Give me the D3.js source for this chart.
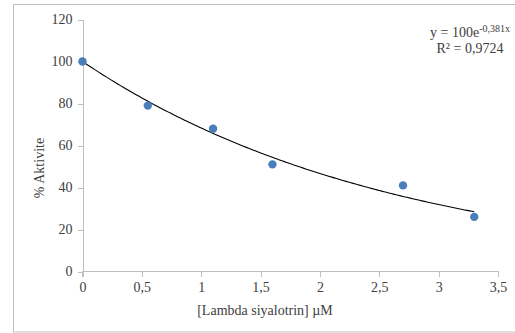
<!DOCTYPE html>
<html><head><meta charset="utf-8">
<script src="https://cdn.jsdelivr.net/npm/d3@7"></script>
<style>body{margin:0;background:#fff}svg{display:block}text{font-family:"Liberation Serif","Times New Roman",serif;fill:#404040}</style>
</head><body><svg id="c" width="515" height="333"></svg>
<script>
const xValues = [0, 0.55, 1.1, 1.6, 2.7, 3.3];
const yValues = [100, 79, 68, 51, 41, 26];
const xTicks = [0, 0.5, 1, 1.5, 2, 2.5, 3, 3.5];
const yTicks = [0, 20, 40, 60, 80, 100, 120];
const trendA = 100, trendB = -0.381;
const eqText = ["y = 100e", "-0,381x"];
const r2Text = "R² = 0,9724";
const xTitle = "[Lambda siyalotrin] µM";
const yTitle = "% Aktivite";

const svg = d3.select("#c");
svg.append("rect").attr("x",13.5).attr("y",4.5).attr("width",520).attr("height",327.5)
  .attr("fill","#fff").attr("stroke","#bfbfbf").attr("stroke-width",1);

const x = d3.scaleLinear().domain([0,3.5]).range([82.5,498]);
const y = d3.scaleLinear().domain([0,120]).range([271.5,19.5]);
const fmt = d => String(d).replace(".", ",");

const gx = svg.append("g").attr("transform","translate(0,271.5)")
  .call(d3.axisBottom(x).tickValues(xTicks).tickFormat(fmt).tickSize(5).tickPadding(6));
const gy = svg.append("g").attr("transform","translate(82.5,0)")
  .call(d3.axisLeft(y).tickValues(yTicks).tickSize(5).tickPadding(5));
[gx,gy].forEach(g=>{
  g.selectAll("path,line").attr("stroke","#bfbfbf").attr("shape-rendering","crispEdges");
  g.selectAll("text").attr("font-family","Liberation Serif").attr("font-size",14).attr("fill","#404040");
});
gx.select(".domain").attr("d","M82.5,5V0H498V5");

// trendline
const tx = d3.range(0, 3.3001, 0.02);
svg.append("path").datum(tx)
  .attr("d", d3.line().x(d=>x(d)).y(d=>y(trendA*Math.exp(trendB*d))))
  .attr("fill","none").attr("stroke","#000").attr("stroke-width",1.1);

svg.append("g").selectAll("circle").data(xValues).join("circle")
  .attr("cx",(d)=>x(d)).attr("cy",(d,i)=>y(yValues[i])).attr("r",4.2)
  .attr("fill","#4a7ebb");

const eq = svg.append("text").attr("x",470).attr("y",37).attr("text-anchor","middle").attr("font-size",14);
eq.append("tspan").text(eqText[0]);
eq.append("tspan").attr("font-size",10).attr("dy",-5).text(eqText[1]);
svg.append("text").attr("x",470).attr("y",53).attr("text-anchor","middle").attr("font-size",14).text(r2Text);

svg.append("text").attr("x",265).attr("y",315).attr("text-anchor","middle").attr("font-size",14).text(xTitle);
svg.append("text").attr("transform","translate(44,168) rotate(-90)").attr("text-anchor","middle").attr("font-size",14).text(yTitle);
</script></body></html>
